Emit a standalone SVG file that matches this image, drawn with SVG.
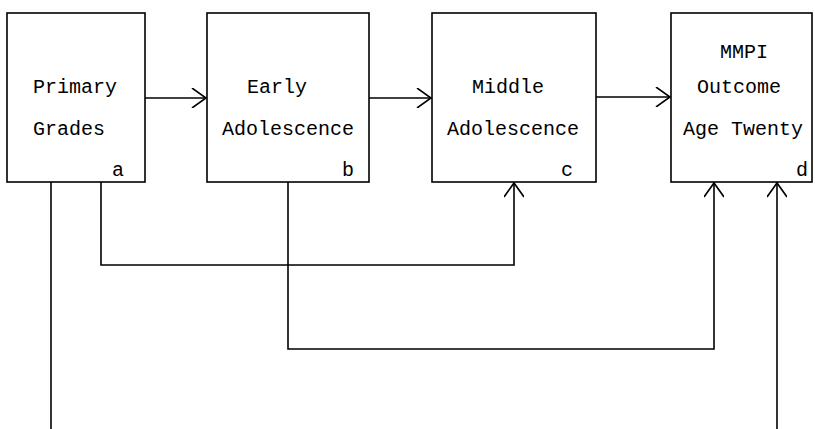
<svg xmlns="http://www.w3.org/2000/svg" width="815" height="429" viewBox="0 0 815 429">
<defs>
<style>
.box{fill:#fff;stroke:#000;stroke-width:1.6}
.t{font-family:"Liberation Mono","Courier New",monospace;font-size:20px;fill:#000}
.c{fill:none;stroke:#000;stroke-width:1.6}
</style>
<marker id="ah" viewBox="-16 -10 18 20" markerWidth="18" markerHeight="20" refX="0" refY="0" orient="auto" markerUnits="userSpaceOnUse">
<path d="M-14,-10 L0,0 L-14,10" fill="none" stroke="#000" stroke-width="1.6"/>
</marker>
</defs>
<rect width="815" height="429" fill="#fff"/>
<g id="connectors">
<line class="c" x1="145" y1="98" x2="206" y2="98" marker-end="url(#ah)"/>
<line class="c" x1="369" y1="98" x2="431" y2="98" marker-end="url(#ah)"/>
<line class="c" x1="596" y1="97" x2="670" y2="97" marker-end="url(#ah)"/>
<polyline class="c" points="101,182 101,265 514,265 514,183" marker-end="url(#ah)"/>
<polyline class="c" points="288,182 288,349 714,349 714,183" marker-end="url(#ah)"/>
<line class="c" x1="51" y1="182" x2="51" y2="429"/>
<line class="c" x1="777" y1="429" x2="777" y2="183" marker-end="url(#ah)"/>
</g>
<g id="a">
<rect class="box" x="7" y="13" width="138" height="169"/>
<text class="t" x="33" y="93">Primary</text>
<text class="t" x="33" y="135">Grades</text>
<text class="t" x="112" y="176">a</text>
</g>
<g id="b">
<rect class="box" x="207" y="13" width="162" height="169"/>
<text class="t" x="247" y="93">Early</text>
<text class="t" x="222" y="135">Adolescence</text>
<text class="t" x="342" y="176">b</text>
</g>
<g id="c">
<rect class="box" x="432" y="13" width="164" height="169"/>
<text class="t" x="472" y="93">Middle</text>
<text class="t" x="447" y="135">Adolescence</text>
<text class="t" x="561" y="176">c</text>
</g>
<g id="d">
<rect class="box" x="671" y="13" width="141" height="169"/>
<text class="t" x="720" y="58">MMPI</text>
<text class="t" x="697" y="93">Outcome</text>
<text class="t" x="683" y="135">Age Twenty</text>
<text class="t" x="796" y="176">d</text>
</g>
</svg>
